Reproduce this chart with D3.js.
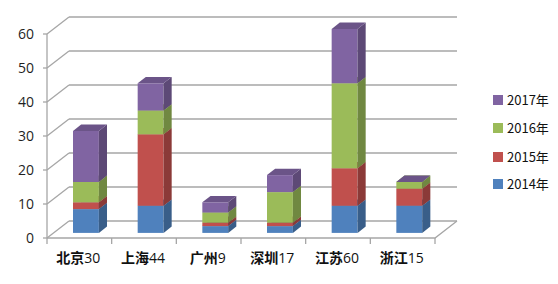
<!DOCTYPE html>
<html>
<head>
<meta charset="utf-8">
<script src="https://cdn.jsdelivr.net/npm/d3@7"></script>
<style>
  body { margin: 0; background: #fff; }
  svg { display: block; }
  .tick-label { font-family: "Open Sans", "Noto Sans", sans-serif; font-size: 14px; fill: #1f1f1f; }
  .cat-label { font-family: "Noto Sans CJK SC", sans-serif; font-size: 14px; fill: #111; }
  .legend-label { font-family: "Noto Sans CJK SC", sans-serif; font-size: 13px; fill: #111; }
</style>
</head>
<body>
<div id="chart"></div>
<script>
// chart data
var cities = ["北京", "上海", "广州", "深圳", "江苏", "浙江"];
var totals = ["30", "44", "9", "17", "60", "15"];
var years = ["2014年", "2015年", "2016年", "2017年"];
var v2014 = [7, 8, 2, 2, 8, 8];
var v2015 = [2, 21, 1, 1, 11, 5];
var v2016 = [6, 7, 3, 9, 25, 2];
var v2017 = [15, 8, 3, 5, 16, 0];
var yTicks = [0, 10, 20, 30, 40, 50, 60];

var colors = ["#4F81BD", "#C0504D", "#9BBB59", "#8064A2"];

var width = 558, height = 284;

var svg = d3.select("#chart").append("svg")
    .attr("width", width)
    .attr("height", height);

// Front plane scales
var x = d3.scaleBand().domain(cities).range([47, 435]).paddingInner(0.6).paddingOuter(0.3);
var y = d3.scaleLinear().domain([0, 60]).range([238, 34]);

// depth of the 3d box (0 = front, 1 = back wall)
var depthX = d3.scaleLinear().domain([0, 1]).range([0, 22]);
var depthY = d3.scaleLinear().domain([0, 1]).range([0, -17]);

var gridColor = "#A6A6A6";
var grid = svg.append("g").attr("fill", "none").attr("stroke", gridColor).attr("stroke-width", 1.3);

// Back wall and side wall gridlines
yTicks.forEach(function(v) {
    var yf = y(v), yb = y(v) + depthY(1);
    grid.append("line")
        .attr("x1", x.range()[0] + depthX(1)).attr("y1", yb)
        .attr("x2", x.range()[1] + depthX(1)).attr("y2", yb);
    grid.append("line")
        .attr("x1", x.range()[0]).attr("y1", yf)
        .attr("x2", x.range()[0] + depthX(1)).attr("y2", yb);
    // tick mark on value axis
    grid.append("line")
        .attr("x1", x.range()[0] - 4).attr("y1", yf)
        .attr("x2", x.range()[0]).attr("y2", yf);
});

// value axis line
grid.append("line")
    .attr("x1", x.range()[0]).attr("y1", y(60))
    .attr("x2", x.range()[0]).attr("y2", y(0));

// floor front and right edge
grid.append("path")
    .attr("d", "M" + x.range()[0] + "," + y(0) + "L" + x.range()[1] + "," + y(0)
        + "L" + (x.range()[1] + depthX(1)) + "," + (y(0) + depthY(1)));

// category ticks
var step = x.step();
var catEdges = d3.range(cities.length + 1).map(function(i) { return x.range()[0] + i * step; });
catEdges.forEach(function(cx) {
    grid.append("line")
        .attr("x1", cx).attr("y1", y(0))
        .attr("x2", cx).attr("y2", y(0) + 6);
});

// y tick labels
svg.append("g").selectAll("text")
    .data(yTicks)
    .enter().append("text")
    .attr("class", "tick-label")
    .attr("x", 34)
    .attr("y", function(d) { return y(d); })
    .attr("dy", "0.35em")
    .attr("text-anchor", "end")
    .text(function(d) { return d; });

// stacked data
var table = cities.map(function(c, i) {
    return { city: c, s0: v2014[i], s1: v2015[i], s2: v2016[i], s3: v2017[i] };
});
var stack = d3.stack().keys(["s0", "s1", "s2", "s3"])(table);

var d0 = 0.3, d1 = 0.67;
var fx = depthX(d0), fy = depthY(d0);
var bx = depthX(d1) - depthX(d0), by = depthY(d1) - depthY(d0);

function pts(arr) { return arr.map(function(p) { return p.join(","); }).join(" "); }

var bars = svg.append("g");
cities.forEach(function(c, i) {
    var g = bars.append("g");
    stack.forEach(function(layer, k) {
        var seg = layer[i];
        var L = x(c) + fx, R = L + x.bandwidth();
        var yb = y(seg[0]) + fy, yt = y(seg[1]) + fy;
        var col = d3.color(colors[k]);
        // front
        g.append("polygon")
            .attr("points", pts([[L, yt], [R, yt], [R, yb], [L, yb]]))
            .attr("fill", colors[k]);
        // side
        g.append("polygon")
            .attr("points", pts([[R, yt], [R + bx, yt + by], [R + bx, yb + by], [R, yb]]))
            .attr("fill", col.darker(0.9));
        // top
        g.append("polygon")
            .attr("points", pts([[L, yt], [L + bx, yt + by], [R + bx, yt + by], [R, yt]]))
            .attr("fill", col.darker(0.5));
    });
});

// category labels
var cats = svg.append("g").selectAll("text")
    .data(cities)
    .enter().append("text")
    .attr("class", "cat-label")
    .attr("x", function(d) { return x(d) + x.bandwidth() / 2 - 1; })
    .attr("y", 263)
    .attr("text-anchor", "middle");
cats.append("tspan").attr("font-weight", "bold").text(function(d) { return d; });
cats.append("tspan").attr("font-family", "'Open Sans', sans-serif").text(function(d, i) { return totals[i]; });

// legend
var legendY = [184, 157, 128, 100];
var legend = svg.append("g").selectAll("g")
    .data(years)
    .enter().append("g")
    .attr("transform", function(d, i) { return "translate(493," + legendY[i] + ")"; });
legend.append("rect")
    .attr("x", 0).attr("y", -5)
    .attr("width", 10).attr("height", 10)
    .attr("fill", function(d, i) { return colors[i]; });
legend.append("text")
    .attr("class", "legend-label")
    .attr("x", 14)
    .attr("dy", "0.35em")
    .text(function(d) { return d; });
</script>
</body>
</html>
